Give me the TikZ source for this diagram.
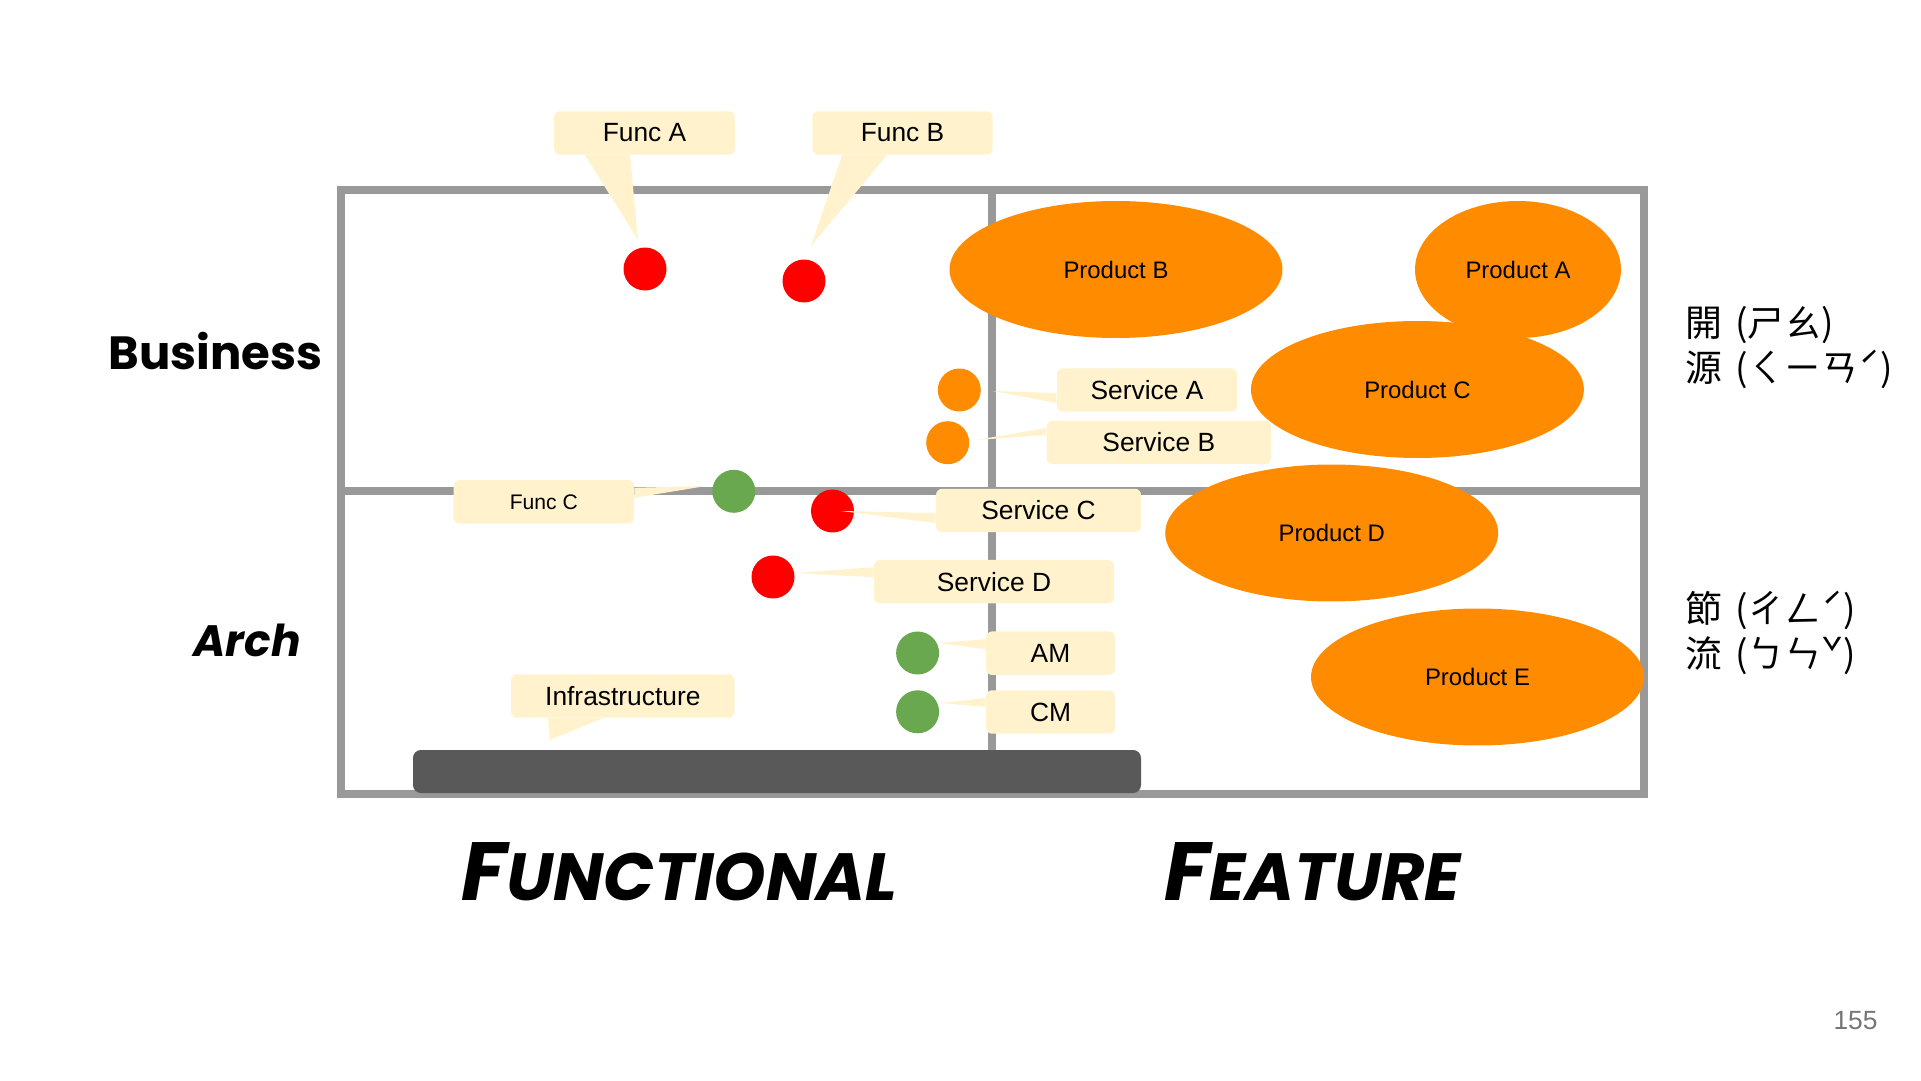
\documentclass[tikz,border=0pt]{standalone}
\usepackage{fontspec}
\setmainfont{Liberation Sans}
\newfontfamily\labelfont{Poppins}
\newfontfamily\cjkfont{Noto Sans CJK TC}
\usetikzlibrary{shapes.geometric}

\definecolor{notefill}{HTML}{FFF2CC}
\definecolor{gridgray}{HTML}{999999}
\definecolor{prodorange}{HTML}{FF8C00}
\definecolor{dotred}{HTML}{FF0000}
\definecolor{dotgreen}{HTML}{6AA84F}
\definecolor{infragray}{HTML}{595959}
\definecolor{pagegray}{HTML}{757575}

% first letter large, the rest as capitals of a smaller size
\newcommand{\fakesc}[2]{#1{\fontsize{38}{40}\selectfont\MakeUppercase{#2}}}

\begin{document}
\begin{tikzpicture}[
    x=0.02cm,
    y=-0.02cm,
    gridline/.style={draw=gridgray, line width=4.5pt},
    dot/.style={circle, inner sep=0pt, minimum size=0.86cm},
    product/.style={ellipse, fill=prodorange, inner sep=0pt,
        minimum width=6.66cm, minimum height=2.74cm,
        font=\fontsize{13.6}{16}\selectfont},
    note/.style={fill=notefill, rounded corners=3.5pt, inner sep=0pt,
        minimum height=0.87cm, font=\fontsize{15}{18}\selectfont},
    tail/.style={fill=notefill},
    axis/.style={font=\labelfont\bfseries\fontsize{26.5}{30}\selectfont},
    side/.style={font=\labelfont\bfseries\itshape\fontsize{47}{50}\selectfont},
    reading/.style={anchor=west, align=left,
        font=\cjkfont\fontsize{21}{25.5}\selectfont},
]
    \useasboundingbox (0,0) rectangle (1921,1081);

    % quadrants
    \draw[gridline] (341,190) rectangle (1644,794);
    \draw[gridline] (992,190) -- (992,794);
    \draw[gridline] (341,491) -- (1644,491);

    % products
    \node[product, minimum width=4.12cm] (pA) at (1518,269.5) {Product A};
    \node[product]                       (pB) at (1116,269.5) {Product B};
    \node[product]                       (pC) at (1417.4,389.5) {Product C};
    \node[product]                       (pD) at (1331.7,533)   {Product D};
    \node[product]                       (pE) at (1477.5,677)   {Product E};

    % infrastructure bar
    \fill[infragray, rounded corners=4.5pt] (413,750) rectangle (1141,793);

    % dots
    \node[dot, fill=dotred]     (dFA) at (645,269)     {};
    \node[dot, fill=dotred]     (dFB) at (804,281)     {};
    \node[dot, fill=prodorange] (dSA) at (959.3,390)   {};
    \node[dot, fill=prodorange] (dSB) at (947.7,442.7) {};
    \node[dot, fill=dotgreen]   (dFC) at (733.8,491.3) {};
    \node[dot, fill=dotred]     (dSC) at (832.5,511)   {};
    \node[dot, fill=dotred]     (dSD) at (773,577)     {};
    \node[dot, fill=dotgreen]   (dAM) at (917.6,653)   {};
    \node[dot, fill=dotgreen]   (dCM) at (917.6,711.8) {};

    % callouts
    \node[note, minimum width=3.62cm] (fA)    at (644.5,133)    {Func A};
    \node[note, minimum width=3.61cm] (fB)    at (902.5,133)    {Func B};
    \node[note, minimum width=3.61cm] (sA)    at (1147,390)     {Service A};
    \node[note, minimum width=4.49cm] (sB)    at (1158.8,442.5) {Service B};
    \node[note, minimum width=3.61cm,
          font=\fontsize{12}{14}\selectfont] (fC) at (543.8,501.8) {Func C};
    \node[note, minimum width=4.1cm]  (sC)    at (1038.5,510.5) {Service C};
    \node[note, minimum width=4.8cm]  (sD)    at (994,581.7)    {Service D};
    \node[note, minimum width=2.58cm] (am)    at (1050.5,653.2) {AM};
    \node[note, minimum width=2.58cm] (cm)    at (1050.5,712)   {CM};
    \node[note, minimum width=4.47cm] (infra) at (622.8,696)    {Infrastructure};

    % tail tips
    \coordinate (tFA) at (638,240);
    \coordinate (tFB) at (811,246);
    \coordinate (tSA) at (993,391);
    \coordinate (tSB) at (976,440);
    \coordinate (tFC) at (706,486);
    \coordinate (tSC) at (841,511);
    \coordinate (tSD) at (794,573);
    \coordinate (tAM) at (938,643);
    \coordinate (tCM) at (941,703);
    \coordinate (tIn) at (550,740);

    \fill[tail] ([xshift=-1.19cm]fA.south) -- (tFA) -- ([xshift=-0.29cm]fA.south) -- cycle;
    \fill[tail] ([xshift=-1.21cm]fB.south) -- (tFB) -- ([xshift=-0.31cm]fB.south) -- cycle;
    \fill[tail] ([yshift=-0.06cm]sA.west) -- (tSA) -- ([yshift=-0.26cm]sA.west) -- cycle;
    \fill[tail] ([yshift=0.29cm]sB.west)  -- (tSB) -- ([yshift=0.15cm]sB.west)  -- cycle;
    \fill[tail] ([yshift=0.28cm]fC.east)  -- (tFC) -- ([yshift=0.08cm]fC.east)  -- cycle;
    \fill[tail] ([yshift=-0.05cm]sC.west) -- (tSC) -- ([yshift=-0.25cm]sC.west) -- cycle;
    \fill[tail] ([yshift=0.29cm]sD.west)  -- (tSD) -- ([yshift=0.09cm]sD.west)  -- cycle;
    \fill[tail] ([yshift=0.28cm]am.west)  -- (tAM) -- ([yshift=0.08cm]am.west)  -- cycle;
    \fill[tail] ([yshift=0.28cm]cm.west)  -- (tCM) -- ([yshift=0.1cm]cm.west)   -- cycle;
    \fill[tail] ([xshift=-1.5cm]infra.south) -- (tIn) -- ([xshift=-0.4cm]infra.south) -- cycle;

    % axis labels
    \node[axis] (business) at (215.6,351.5) {Business};
    \node[axis, font=\labelfont\bfseries\itshape\fontsize{25}{28}\selectfont] (arch) at (247,640) {Arch};
    \node[side] (functional) at (679.5,871.5) {\fakesc{F}{unctional}};
    \node[side] (feature)    at (1312.5,871.5) {\fakesc{F}{eature}};

    \node[reading] (open)  at (1679,347.5) {開\hspace{0.35em}(ㄕㄠ)\\源\hspace{0.35em}(ㄑㄧㄢˊ)};
    \node[reading] (close) at (1679,633)   {節\hspace{0.35em}(ㄔㄥˊ)\\流\hspace{0.35em}(ㄅㄣˇ)};

    \node[font=\fontsize{15}{18}\selectfont, text=pagegray] (page) at (1855.5,1021) {155};
\end{tikzpicture}
\end{document}
